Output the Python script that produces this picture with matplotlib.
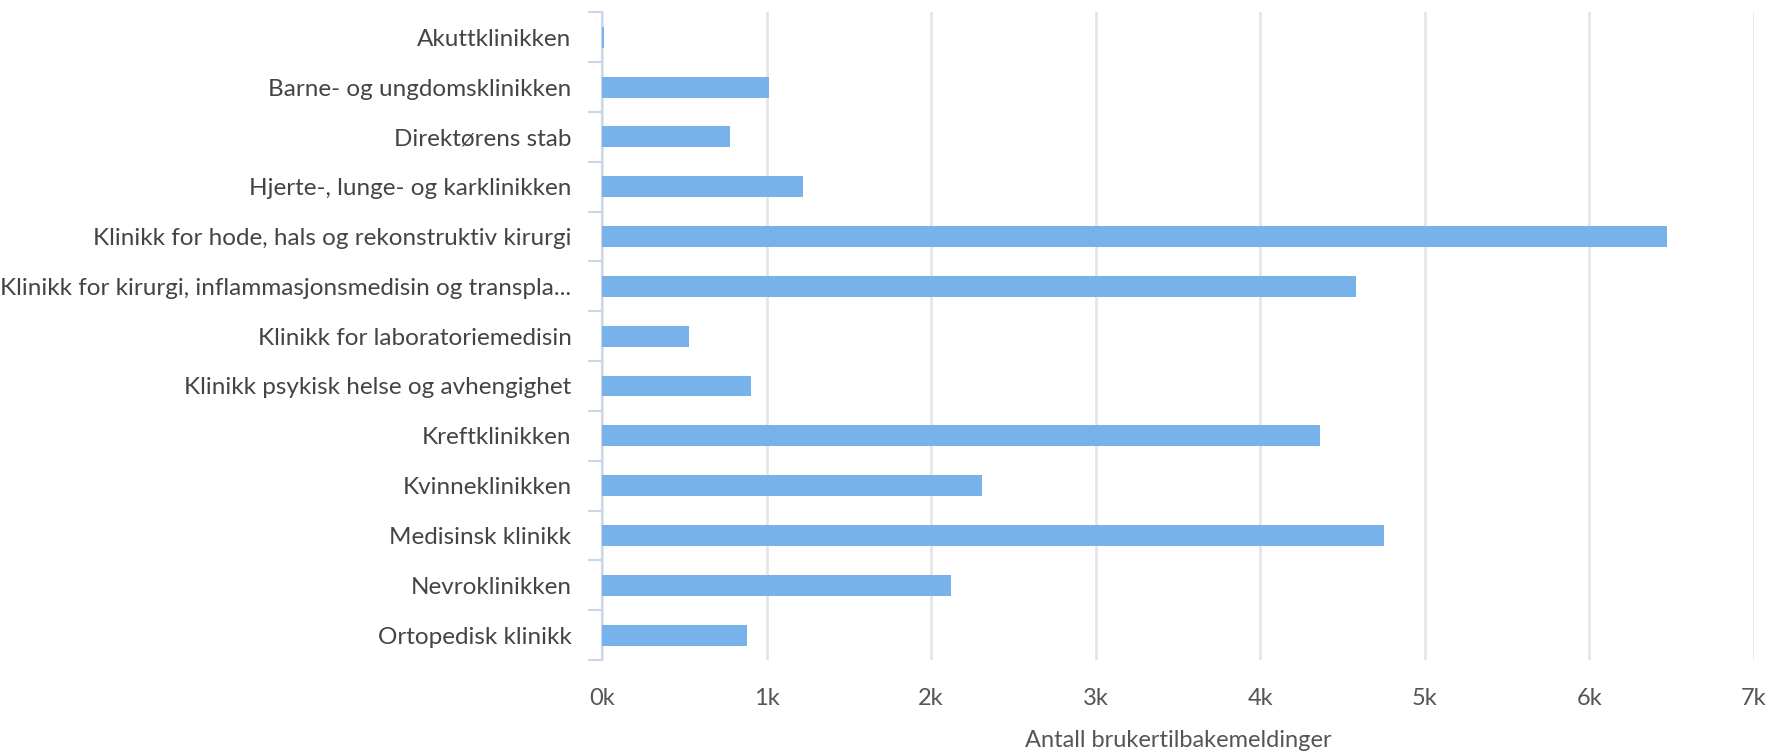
import matplotlib
matplotlib.use("Agg")
import matplotlib.pyplot as plt
from matplotlib.ticker import FuncFormatter, FixedLocator

plt.rcParams['font.family'] = ['Lato', 'DejaVu Sans']

# Data
clinics = [
    "Akuttklinikken",
    "Barne- og ungdomsklinikken",
    "Direktørens stab",
    "Hjerte-, lunge- og karklinikken",
    "Klinikk for hode, hals og rekonstruktiv kirurgi",
    "Klinikk for kirurgi, inflammasjonsmedisin og transpla...",
    "Klinikk for laboratoriemedisin",
    "Klinikk psykisk helse og avhengighet",
    "Kreftklinikken",
    "Kvinneklinikken",
    "Medisinsk klinikk",
    "Nevroklinikken",
    "Ortopedisk klinikk",
]
counts = [15, 1015, 780, 1220, 6470, 4580, 530, 905, 4360, 2310, 4750, 2120, 880]
x_ticks = [0, 1000, 2000, 3000, 4000, 5000, 6000, 7000]
x_title = "Antall brukertilbakemeldinger"

fig = plt.figure(figsize=(17.71, 7.51), dpi=100)
ax = fig.add_axes([0.3399, 0.1212, 0.6505, 0.8623])

pos = list(range(len(clinics)))
ax.barh(pos, counts, height=0.42, color='#78b2eb', zorder=3)

ax.set_xlim(0, 7000)
ax.set_ylim(len(clinics) - 0.5, -0.5)

ax.xaxis.set_major_locator(FixedLocator(x_ticks))
ax.xaxis.set_major_formatter(FuncFormatter(lambda v, p: f"{int(v / 1000)}k"))
ax.grid(axis='x', color='#e6e6e6', linewidth=2, zorder=0)
ax.tick_params(axis='x', length=0, pad=20, labelsize=17, labelcolor='#555555')

ax.set_yticks(pos)
ax.set_yticklabels(clinics, fontsize=17.5, color='#444444')
ax.set_yticks([p + 0.5 for p in range(-1, len(clinics))], minor=True)
ax.tick_params(axis='y', which='major', length=0, pad=22)
ax.tick_params(axis='y', which='minor', length=10, width=1.5, color='#ccd6eb')

for side in ['top', 'right', 'bottom']:
    ax.spines[side].set_visible(False)
ax.spines['left'].set_color('#ccd6eb')
ax.spines['left'].set_linewidth(1.5)

ax.set_xlabel(x_title, fontsize=17, color='#555555', labelpad=15)

fig.savefig("out.png", dpi=100)
